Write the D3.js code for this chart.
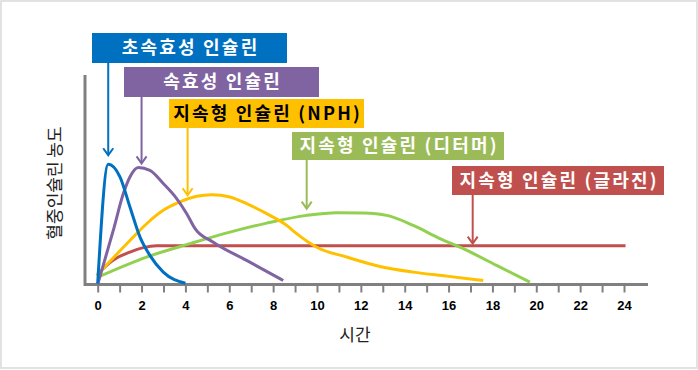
<!DOCTYPE html>
<html>
<head>
<meta charset="utf-8">
<script src="https://cdn.jsdelivr.net/npm/d3@7"></script>
<style>
    body { margin: 0; background: #fff; }
    svg { display: block; }
</style>
</head>
<body>
<svg id="insulin-chart" width="698" height="370"></svg>
<script>
    // time in hours, values = relative blood insulin level (0-100)
    var xTicks = d3.range(0, 25);
    var ultraRapid = [[0, 0.5], [0.48, 57.4], [1.02, 51.3], [1.47, 37], [1.93, 22.6], [2.38, 13.9], [2.99, 5.9], [4.0, 0.6]];
    var shortActing = [[0, 0], [0.71, 25.8], [1.17, 43.4], [1.47, 51.3], [1.85, 55.8], [2.38, 54.5], [2.99, 48.2], [3.6, 41], [4.06, 33.8], [4.44, 26.7], [5.27, 20.2], [6.79, 11.5], [8.46, 1.9]];
    var nph = [[-0.05, 4.3], [1.47, 21], [2.23, 29], [2.99, 35.4], [3.75, 39.4], [4.51, 42.1], [5.2, 42.9], [6.03, 41.8], [6.79, 38.6], [7.71, 33.8], [8.62, 28.2], [9.07, 24.3], [9.99, 17.8], [11.35, 13.1], [12.87, 8.6], [14.39, 5.9], [15.91, 4], [17.58, 1.9]];
    var detemir = [[0, 3.5], [2.23, 13.1], [4.21, 19.5], [6.03, 25], [7.71, 29.3], [9.53, 33], [10.9, 34.3], [12.11, 34.1], [13.18, 33], [14.39, 28.2], [15.61, 21.9], [16.67, 17.1], [18.19, 9.1], [19.71, 1.1]];
    var glargine = [[0, 5.1], [0.68, 11.5], [1.47, 15.5], [2.08, 17.6], [2.69, 18.5], [24.07, 18.5]];

    var seriesNames = ["초속효성 인슐린", "속효성 인슐린", "지속형 인슐린 (NPH)", "지속형 인슐린 (디터머)", "지속형 인슐린 (글라진)"];
    var seriesData = [ultraRapid, shortActing, nph, detemir, glargine];
    // where each label arrow points: [hour, level]
    var arrowTargets = [[0.48, 61.7], [2.0, 57.8], [4.1, 42.6], [9.53, 36.2], [17.1, 19.5]];

    var lineColors = ["#0070C0", "#8064A2", "#FFC000", "#92D050", "#C0504D"];
    var boxColors = ["#0070C0", "#8064A2", "#FFC000", "#9BBB59", "#C0504D"];
    var textColors = ["#fff", "#fff", "#000", "#fff", "#fff"];
    // label boxes (pixels): left, top, width, height
    var boxes = [
        {x: 92, y: 33, w: 195, h: 30},
        {x: 124, y: 67, w: 195, h: 30},
        {x: 169, y: 99, w: 195, h: 29},
        {x: 292, y: 132, w: 212, h: 28},
        {x: 452, y: 166, w: 212, h: 29}
    ];
    var spacing = 2.2;

    var svg = d3.select("#insulin-chart");

    // outer frame
    svg.append("rect")
        .attr("x", 1).attr("y", 1)
        .attr("width", 696).attr("height", 367)
        .attr("fill", "#fff")
        .attr("stroke", "#d9d9d9")
        .attr("stroke-width", 1.5);

    var x = d3.scaleLinear().domain([0, 24]).range([97.7, 624]);
    var y = d3.scaleLinear().domain([0, 100]).range([284.5, 75]);

    var xAxis = d3.axisBottom(x)
        .tickValues(xTicks)
        .tickSize(8)
        .tickPadding(8)
        .tickFormat(function(d){ return d % 2 === 0 ? d : ""; });

    var gx = svg.append("g")
        .attr("transform", "translate(0," + y(0) + ")")
        .call(xAxis);
    gx.select(".domain").remove();
    gx.selectAll(".tick line")
        .attr("stroke", "#808080")
        .attr("stroke-width", 2);
    gx.selectAll(".tick text")
        .attr("fill", "#000")
        .style("font-family", "'Liberation Sans', Arial, sans-serif")
        .style("font-size", "13px")
        .style("font-weight", "bold");

    // axis lines
    svg.append("line")
        .attr("x1", 85).attr("x2", 648)
        .attr("y1", y(0)).attr("y2", y(0))
        .attr("stroke", "#808080").attr("stroke-width", 3);
    svg.append("line")
        .attr("x1", 85).attr("x2", 85)
        .attr("y1", y(100)).attr("y2", y(0) + 1.5)
        .attr("stroke", "#808080").attr("stroke-width", 3);

    // axis titles
    svg.append("text")
        .attr("x", 355).attr("y", 341)
        .attr("text-anchor", "middle")
        .style("font-family", "'Noto Sans CJK KR', sans-serif")
        .style("font-size", "17px")
        .attr("fill", "#222")
        .text("시간");

    svg.append("text")
        .attr("transform", "translate(61,183) rotate(-90)")
        .attr("text-anchor", "middle")
        .style("font-family", "'Noto Sans CJK KR', sans-serif")
        .style("font-size", "17px")
        .attr("fill", "#222")
        .text("혈중인슐린 농도");

    var line = d3.line()
        .x(function(d){ return x(d[0]); })
        .y(function(d){ return y(d[1]); })
        .curve(d3.curveMonotoneX);

    // draw order: glargine, detemir, nph, short, ultra-rapid on top
    var order = [4, 3, 2, 1, 0];
    svg.append("g").selectAll("path")
        .data(order)
        .enter()
        .append("path")
        .attr("d", function(i){ return line(seriesData[i]); })
        .attr("fill", "none")
        .attr("stroke", function(i){ return lineColors[i]; })
        .attr("stroke-width", 3)
        .attr("stroke-linecap", "butt");

    // labels with arrows
    var ann = svg.append("g").selectAll("g")
        .data(seriesNames)
        .enter()
        .append("g");

    ann.append("line")
        .attr("x1", function(d, i){ return x(arrowTargets[i][0]); })
        .attr("x2", function(d, i){ return x(arrowTargets[i][0]); })
        .attr("y1", function(d, i){ return boxes[i].y + boxes[i].h; })
        .attr("y2", function(d, i){ return y(arrowTargets[i][1]) - 1; })
        .attr("stroke", function(d, i){ return boxColors[i]; })
        .attr("stroke-width", 2);

    ann.append("path")
        .attr("d", function(d, i){
            var ax = x(arrowTargets[i][0]), ay = y(arrowTargets[i][1]);
            return "M" + (ax - 5) + "," + (ay - 7) + "L" + ax + "," + ay + "L" + (ax + 5) + "," + (ay - 7);
        })
        .attr("fill", "none")
        .attr("stroke", function(d, i){ return boxColors[i]; })
        .attr("stroke-width", 2)
        .attr("stroke-linejoin", "miter");

    ann.append("rect")
        .attr("x", function(d, i){ return boxes[i].x; })
        .attr("y", function(d, i){ return boxes[i].y; })
        .attr("width", function(d, i){ return boxes[i].w; })
        .attr("height", function(d, i){ return boxes[i].h; })
        .attr("fill", function(d, i){ return boxColors[i]; });

    ann.append("text")
        .attr("x", function(d, i){ return boxes[i].x + boxes[i].w / 2 + spacing / 2; })
        .attr("y", function(d, i){ return boxes[i].y + boxes[i].h / 2; })
        .attr("dy", "0.36em")
        .attr("text-anchor", "middle")
        .style("font-family", "'Noto Sans CJK KR', sans-serif")
        .style("font-size", "18px")
        .style("font-weight", "bold")
        .style("letter-spacing", spacing + "px")
        .attr("fill", function(d, i){ return textColors[i]; })
        .text(function(d){ return d; });
</script>
</body>
</html>
